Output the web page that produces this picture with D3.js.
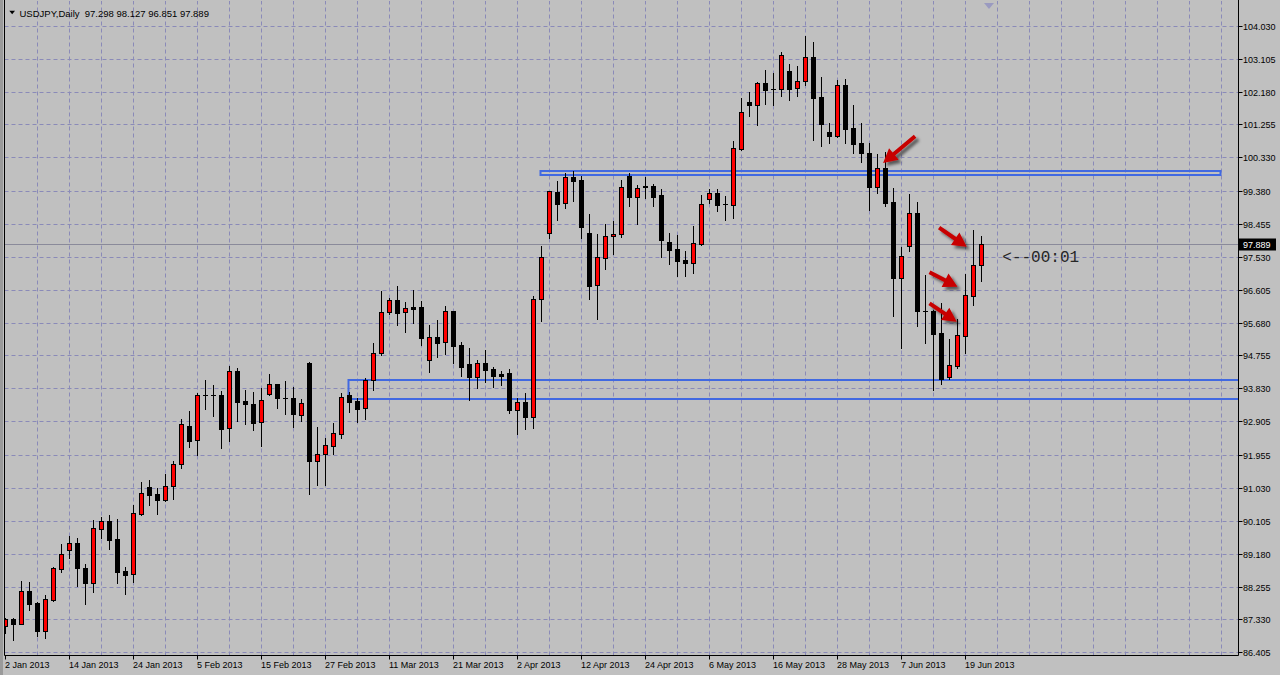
<!DOCTYPE html>
<html><head><meta charset="utf-8">
<script src="https://cdn.jsdelivr.net/npm/d3@7"></script>
<style>html,body{margin:0;padding:0;background:#c0c0c0;overflow:hidden}</style>
</head><body>
<svg id="c" width="1280" height="675"></svg>
<script>
const dates = [
"2013-01-02","2013-01-03","2013-01-04","2013-01-07","2013-01-08","2013-01-09","2013-01-10","2013-01-11","2013-01-14","2013-01-15","2013-01-16","2013-01-17","2013-01-18","2013-01-21","2013-01-22","2013-01-23","2013-01-24","2013-01-25","2013-01-28","2013-01-29","2013-01-30","2013-01-31",
"2013-02-01","2013-02-04","2013-02-05","2013-02-06","2013-02-07","2013-02-08","2013-02-11","2013-02-12","2013-02-13","2013-02-14","2013-02-15","2013-02-18","2013-02-19","2013-02-20","2013-02-21","2013-02-22","2013-02-25","2013-02-26","2013-02-27","2013-02-28",
"2013-03-01","2013-03-04","2013-03-05","2013-03-06","2013-03-07","2013-03-08","2013-03-11","2013-03-12","2013-03-13","2013-03-14","2013-03-15","2013-03-18","2013-03-19","2013-03-20","2013-03-21","2013-03-22","2013-03-25","2013-03-26","2013-03-27","2013-03-28","2013-03-29",
"2013-04-01","2013-04-02","2013-04-03","2013-04-04","2013-04-05","2013-04-08","2013-04-09","2013-04-10","2013-04-11","2013-04-12","2013-04-15","2013-04-16","2013-04-17","2013-04-18","2013-04-19","2013-04-22","2013-04-23","2013-04-24","2013-04-25","2013-04-26","2013-04-29","2013-04-30",
"2013-05-01","2013-05-02","2013-05-03","2013-05-06","2013-05-07","2013-05-08","2013-05-09","2013-05-10","2013-05-13","2013-05-14","2013-05-15","2013-05-16","2013-05-17","2013-05-20","2013-05-21","2013-05-22","2013-05-23","2013-05-24","2013-05-27","2013-05-28","2013-05-29","2013-05-30","2013-05-31",
"2013-06-03","2013-06-04","2013-06-05","2013-06-06","2013-06-07","2013-06-10","2013-06-11","2013-06-12","2013-06-13","2013-06-14","2013-06-17","2013-06-18","2013-06-19","2013-06-20","2013-06-21"
];
const opens = [
87.155,87.333,87.211,88.120,87.802,87.014,87.877,88.758,89.293,89.471,
88.777,88.364,89.865,90.099,89.593,88.692,88.599,90.306,91.056,90.859,
90.700,91.075,91.694,92.772,92.369,93.634,93.634,93.634,92.725,94.310,
93.475,93.381,92.875,93.681,93.944,93.550,93.559,93.072,94.535,91.797,
91.975,92.219,92.556,93.634,93.475,93.269,94.056,94.816,95.969,96.307,
95.988,96.110,96.110,94.619,95.266,95.125,95.997,95.041,94.506,94.160,
94.535,94.375,94.225,94.253,93.231,93.437,93.034,96.335,98.191,99.344,
99.035,99.766,99.682,98.191,96.747,97.507,98.107,98.163,99.804,99.223,
99.523,99.532,99.270,97.948,97.751,97.441,97.366,97.901,99.166,99.317,
99.016,98.979,100.573,101.886,101.811,102.430,102.242,102.242,102.748,102.270,
102.467,103.142,102.017,101.032,100.939,102.355,101.154,100.732,100.451,99.504,
100.029,99.073,96.944,97.826,98.753,96.015,96.015,95.378,94.150,94.468,
95.312,96.437,97.298];
const highs = [
87.360,87.361,88.411,88.374,87.830,88.017,88.805,89.452,89.677,89.611,
88.880,90.136,90.202,90.258,90.155,88.805,90.549,91.187,91.253,91.028,
91.422,91.787,92.969,93.194,93.691,94.066,93.925,93.766,94.469,94.403,
93.785,93.719,93.831,94.235,93.963,94.038,93.859,93.522,94.563,92.744,
92.434,92.856,93.700,93.719,93.559,94.122,95.107,96.569,96.372,96.710,
96.250,96.597,96.288,95.613,95.744,96.147,96.016,95.135,94.966,94.628,
94.910,94.431,94.319,94.375,93.559,93.700,96.428,97.835,99.391,99.663,
99.879,99.945,99.804,98.735,98.172,98.454,98.529,99.691,99.879,99.551,
99.766,99.579,99.429,98.191,98.144,97.694,98.398,99.260,99.448,99.429,
99.251,100.789,102.008,102.167,102.439,102.776,102.701,103.302,102.955,102.898,
103.742,103.564,102.580,101.286,102.505,102.523,101.801,101.295,100.723,100.423,
100.479,99.467,97.807,99.298,99.072,97.019,96.034,96.222,95.209,95.772,
97.047,98.285,98.127];
const lows = [
86.958,86.751,87.200,87.595,86.864,86.808,87.849,88.664,89.058,88.280,
87.774,88.102,89.611,89.311,88.364,88.055,88.383,90.268,90.559,90.306,
90.653,90.728,91.600,92.191,91.956,93.250,93.063,92.162,92.359,92.922,
92.819,92.669,92.209,93.653,93.288,93.109,92.753,92.922,90.859,91.112,
91.112,91.994,92.444,93.166,92.894,92.978,93.794,94.778,95.932,95.613,
95.425,95.679,95.060,94.300,94.722,94.806,94.553,94.178,93.513,93.850,
94.019,93.878,93.925,93.147,92.556,92.697,92.725,95.725,98.069,98.576,
98.913,99.110,98.069,96.353,95.781,97.197,97.610,98.097,98.960,98.454,
99.185,98.970,97.526,97.338,96.991,97.001,97.085,97.873,99.054,98.820,
98.576,98.632,100.526,101.501,101.248,101.829,101.801,102.064,101.951,102.064,
102.355,100.817,100.657,100.742,100.911,100.723,100.460,100.207,98.848,99.335,
98.970,95.875,94.975,97.704,95.593,95.115,93.784,93.953,94.103,94.412,
94.825,96.175,96.851];
const closes = [
87.333,87.211,88.120,87.774,87.005,87.895,88.777,89.161,89.471,88.786,
88.364,89.893,90.099,89.574,88.674,88.589,90.315,90.878,90.840,90.700,
91.084,91.694,92.819,92.359,93.634,93.634,93.634,92.697,94.310,93.456,
93.400,92.866,93.494,93.944,93.569,93.550,93.100,93.409,91.797,91.975,
92.228,92.566,93.578,93.456,93.259,94.066,94.816,95.969,96.307,95.960,
96.082,96.072,95.257,95.266,95.116,95.997,95.032,94.441,94.160,94.535,
94.356,94.188,94.188,93.231,93.438,93.034,96.335,97.535,99.373,99.026,
99.766,99.673,98.379,96.719,97.516,98.107,98.163,99.485,99.223,99.457,
99.485,99.223,98.004,97.732,97.422,97.366,97.910,99.007,99.317,98.998,
99.016,100.582,101.595,101.811,102.420,102.233,102.242,103.198,102.261,102.467,
103.142,102.008,101.276,100.939,102.355,101.136,100.714,100.460,99.504,100.020,
99.054,96.944,97.544,98.763,96.015,96.015,95.359,94.093,94.478,95.331,
96.447,97.300,97.889];

const priceTicks = [104.030,103.105,102.180,101.255,100.330,99.380,98.455,97.530,96.605,95.680,94.755,93.830,92.905,91.955,91.030,90.105,89.180,88.255,87.330,86.405];
const priceTickLabels = ["104.030","103.105","102.180","101.255","100.330","99.380","98.455","97.530","96.605","95.680","94.755","93.830","92.905","91.955","91.030","90.105","89.180","88.255","87.330","86.405"];
const dateTickDates = ["2013-01-02","2013-01-14","2013-01-24","2013-02-05","2013-02-15","2013-02-27","2013-03-11","2013-03-21","2013-04-02","2013-04-12","2013-04-24","2013-05-06","2013-05-16","2013-05-28","2013-06-07","2013-06-19"];
const dateTickLabels = ["2 Jan 2013","14 Jan 2013","24 Jan 2013","5 Feb 2013","15 Feb 2013","27 Feb 2013","11 Mar 2013","21 Mar 2013","2 Apr 2013","12 Apr 2013","24 Apr 2013","6 May 2013","16 May 2013","28 May 2013","7 Jun 2013","19 Jun 2013"];
const headerText = "USDJPY,Daily  97.298 98.127 96.851 97.889";
const bidPrice = 97.889;
// drawn zones: bar index start/end, price top/bottom
const zoneStart = [67, 43];
const zoneEnd = [152, 170];
const zoneTop = [99.945, 94.066];
const zoneBottom = [99.832, 93.517];
// arrows: tail (bar index, price) -> tip (bar index, price)
const arrowTailIdx = [113.7, 116.7, 115.5, 115.5];
const arrowTailPx = [100.92, 98.35, 97.095, 96.223];
const arrowTipIdx = [109.7, 120.15, 119.0, 118.9];
const arrowTipPx = [100.17, 97.815, 96.69, 95.705];
const timerText = "<--00:01";

const W = 1280, H = 675;
const svg = d3.select("#c");
const plotL = 4.5, plotR = 1238.5, plotT = 0.5, plotB = 655.5;
const x = d3.scaleLinear().domain([0, 122]).range([5.5, 981.5]);
const y = d3.scaleLinear().domain([86.405, 100.330]).range([652.3, 157.3]);
const ry = v => Math.round(y(v));

svg.append("rect").attr("width", W).attr("height", H).attr("fill", "#c0c0c0");

const defs = svg.append("defs");
defs.append("clipPath").attr("id", "plot").append("rect")
  .attr("x", 5).attr("y", 1).attr("width", plotR - 5).attr("height", plotB - 1);
const f = defs.append("filter").attr("id", "sh").attr("x", "-50%").attr("y", "-50%").attr("width", "200%").attr("height", "200%");
f.append("feDropShadow").attr("dx", 3).attr("dy", 3).attr("stdDeviation", 1.6).attr("flood-color", "#000").attr("flood-opacity", 0.55);

const g = svg.append("g").attr("clip-path", "url(#plot)");
const gridColor = "#8a8ab8";

// horizontal grid
g.selectAll("line.hg").data(priceTicks).join("line")
  .attr("x1", plotL).attr("x2", plotR)
  .attr("y1", d => ry(d) + 0.5).attr("y2", d => ry(d) + 0.5)
  .attr("stroke", gridColor).attr("stroke-dasharray", "4,3").attr("stroke-width", 1);
// vertical grid every 4 bars
const vIdx = d3.range(4, 153, 4);
g.selectAll("line.vg").data(vIdx).join("line")
  .attr("x1", d => x(d)).attr("x2", d => x(d))
  .attr("y1", plotT).attr("y2", plotB)
  .attr("stroke", gridColor).attr("stroke-dasharray", "4,3").attr("stroke-width", 1);

// zones (behind candles)
const zoneColor = "#4169e1";
zoneStart.forEach((s, k) => {
  g.append("rect")
    .attr("x", x(s) - 1).attr("y", ry(zoneTop[k]))
    .attr("width", x(zoneEnd[k]) - x(s))
    .attr("height", ry(zoneBottom[k]) - ry(zoneTop[k]))
    .attr("fill", "none").attr("stroke", zoneColor).attr("stroke-width", 2);
});

// bid line
g.append("line").attr("x1", plotL).attr("x2", plotR)
  .attr("y1", ry(bidPrice) + 0.5).attr("y2", ry(bidPrice) + 0.5)
  .attr("stroke", "#8a8a9a").attr("stroke-width", 1);

// candles
const idx = d3.range(dates.length);
g.selectAll("line.wick").data(idx).join("line")
  .attr("x1", i => x(i)).attr("x2", i => x(i))
  .attr("y1", i => ry(highs[i])).attr("y2", i => ry(lows[i]) + 1)
  .attr("stroke", "#000").attr("stroke-width", 1);
idx.forEach(i => {
  const o = opens[i], c = closes[i];
  if (Math.abs(o - c) < 0.0005) {
    g.append("line").attr("x1", x(i) - 2.5).attr("x2", x(i) + 2.5)
      .attr("y1", ry(c) + 0.5).attr("y2", ry(c) + 0.5)
      .attr("stroke", "#000").attr("stroke-width", 1);
  } else {
    const top = ry(Math.max(o, c)), bot = ry(Math.min(o, c));
    g.append("rect").attr("x", x(i) - 2).attr("width", 4)
      .attr("y", top + 0.5).attr("height", Math.max(bot - top, 1))
      .attr("fill", c > o ? "#ff0000" : "#000000")
      .attr("stroke", "#000").attr("stroke-width", 1);
  }
});

// arrows
function arrowPoly(x1, y1, x2, y2) {
  const dx = x2 - x1, dy = y2 - y1, L = Math.hypot(dx, dy);
  const ux = dx / L, uy = dy / L, nx = -uy, ny = ux;
  const hl = 14, hw = 7.5, sw = 2;
  const bx = x2 - ux * hl, by = y2 - uy * hl;
  return [
    [x1 + nx * sw, y1 + ny * sw], [bx + nx * sw, by + ny * sw], [bx + nx * hw, by + ny * hw],
    [x2, y2], [bx - nx * hw, by - ny * hw], [bx - nx * sw, by - ny * sw], [x1 - nx * sw, y1 - ny * sw]
  ].map(p => p.join(",")).join(" ");
}
const ga = svg.append("g").attr("filter", "url(#sh)");
arrowTailIdx.forEach((t, k) => {
  ga.append("polygon")
    .attr("points", arrowPoly(x(t), y(arrowTailPx[k]), x(arrowTipIdx[k]), y(arrowTipPx[k])))
    .attr("fill", "#c80000");
});

// timer label
svg.append("text").attr("x", x(124.6)).attr("y", 262)
  .attr("font-family", "Liberation Mono, monospace").attr("font-size", 16)
  .attr("fill", "#262626").text(timerText);

// frame
svg.append("rect").attr("x", 0).attr("y", 0).attr("width", 3).attr("height", H).attr("fill", "#9a9a9a");
const frame = svg.append("g").attr("stroke", "#000").attr("stroke-width", 1);
frame.append("line").attr("x1", plotL).attr("x2", plotL).attr("y1", 0).attr("y2", plotB);
frame.append("line").attr("x1", plotL).attr("x2", plotR).attr("y1", plotB).attr("y2", plotB);
frame.append("line").attr("x1", plotR).attr("x2", plotR).attr("y1", 0).attr("y2", plotB);

// price axis
const fontAxis = "Liberation Sans, Arial, sans-serif";
priceTicks.forEach((t, k) => {
  const yy = ry(t) + 0.5;
  svg.append("line").attr("x1", plotR).attr("x2", plotR + 4).attr("y1", yy).attr("y2", yy).attr("stroke", "#000");
  svg.append("text").attr("x", 1243).attr("y", yy + 3.3)
    .attr("font-family", fontAxis).attr("font-size", 9).attr("fill", "#000").text(priceTickLabels[k]);
});
// current price box
const by0 = ry(bidPrice) + 0.5;
svg.append("rect").attr("x", 1239).attr("y", by0 - 6).attr("width", 37).attr("height", 12).attr("fill", "#000");
svg.append("text").attr("x", 1243).attr("y", by0 + 3.3)
  .attr("font-family", fontAxis).attr("font-size", 9).attr("fill", "#fff").text(bidPrice.toFixed(3));

// date axis
dateTickDates.forEach((d, k) => {
  const i = dates.indexOf(d);
  const xx = x(i);
  svg.append("line").attr("x1", xx).attr("x2", xx).attr("y1", plotB).attr("y2", plotB + 4).attr("stroke", "#000");
  svg.append("text").attr("x", xx - 0.5).attr("y", 667.5)
    .attr("font-family", fontAxis).attr("font-size", 9).attr("fill", "#000").text(dateTickLabels[k]);
});

// header
svg.append("polygon").attr("points", "9.3,10.7 15,10.7 12.15,14.3").attr("fill", "#000");
svg.append("text").attr("x", 19.5).attr("y", 16.5).attr("xml:space", "preserve")
  .style("white-space", "pre")
  .attr("font-family", fontAxis).attr("font-size", 9.5).attr("fill", "#000").text(headerText);

// chart shift marker
svg.append("polygon").attr("points", "984,3 994,3 989,9").attr("fill", "#9a9ac0");
</script>
</body></html>
